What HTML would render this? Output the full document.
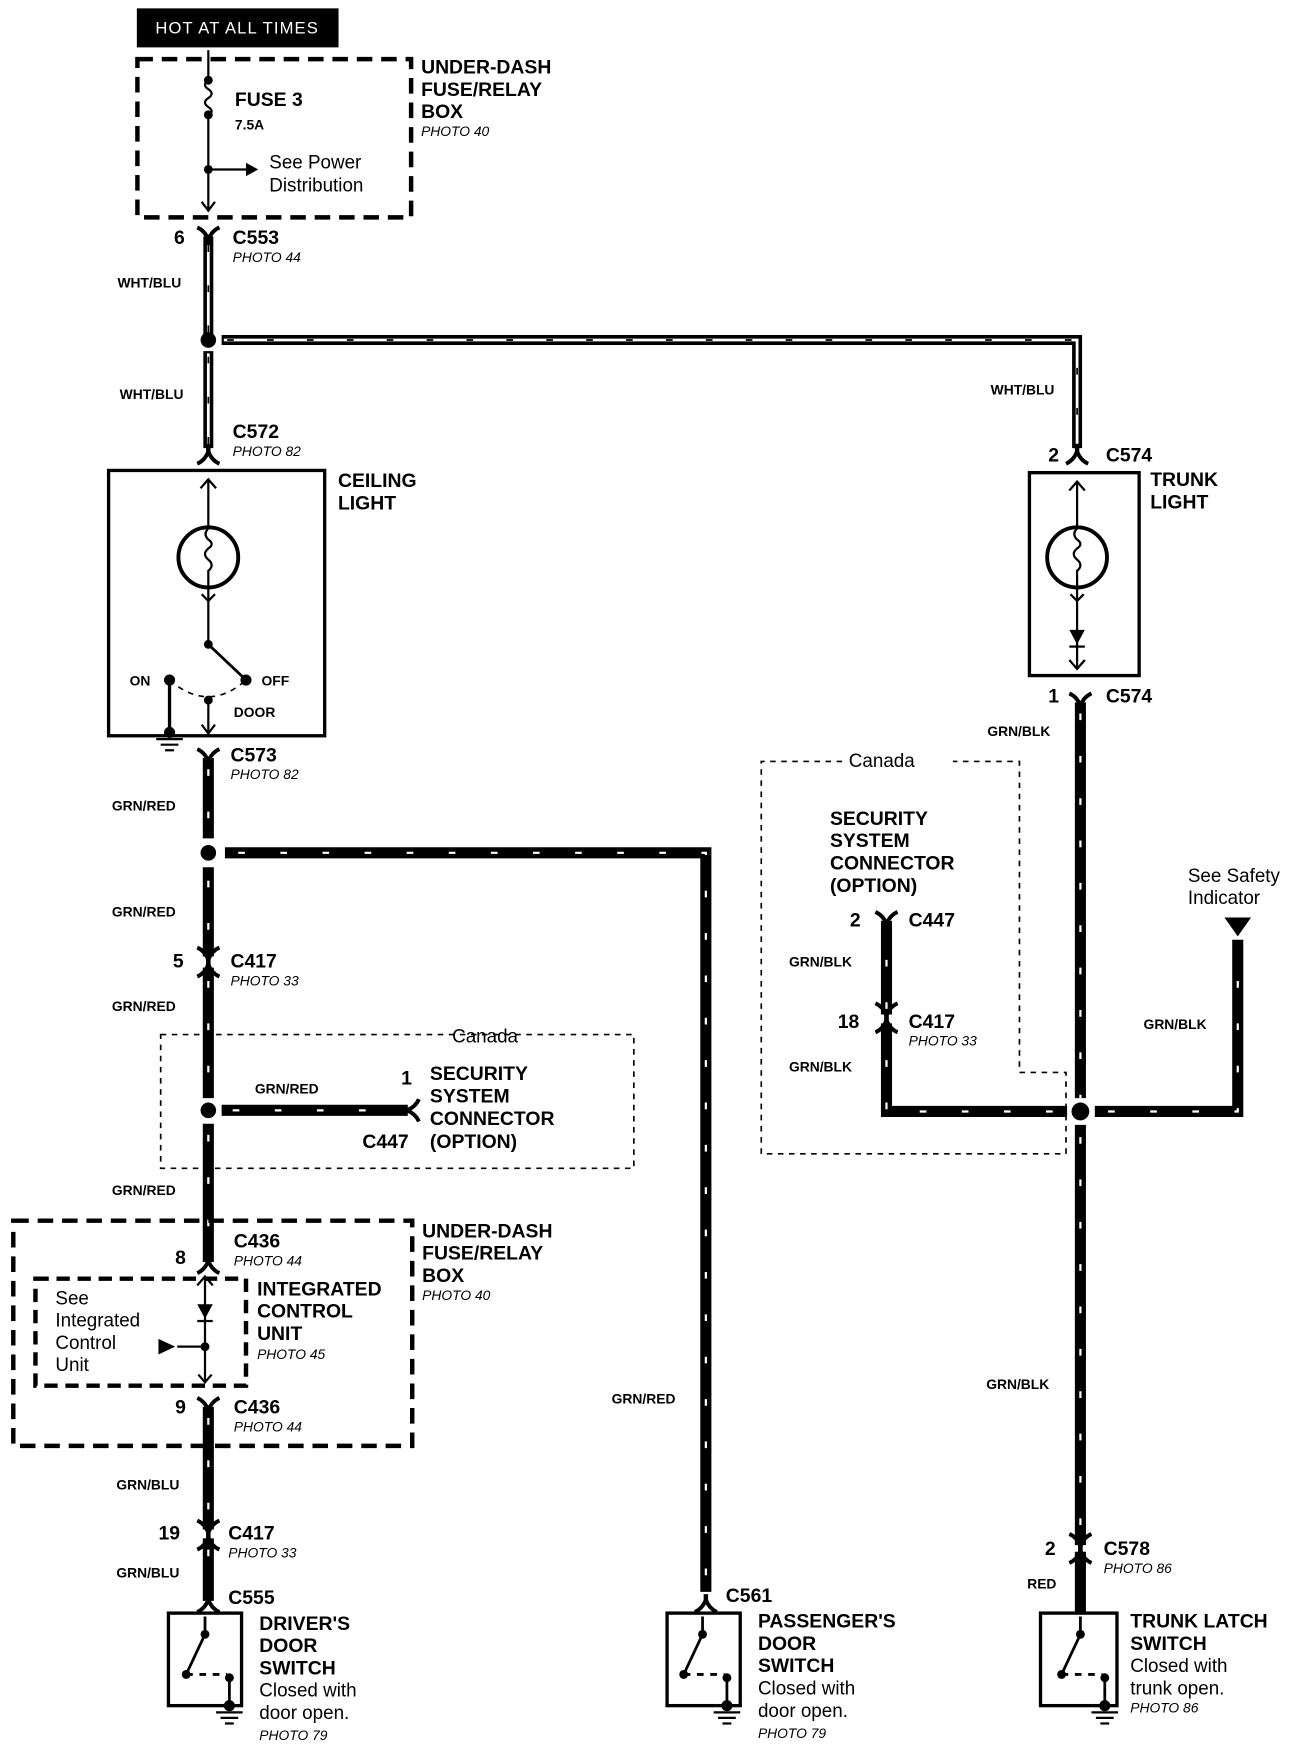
<!DOCTYPE html>
<html><head><meta charset="utf-8"><style>
html,body{margin:0;padding:0;background:#fff}
svg{display:block}
text{font-family:"Liberation Sans",Arial,sans-serif;fill:#000}
.b{font-weight:bold;font-size:17.5px}
.w{font-weight:bold;font-size:12.5px}
.p{font-style:italic;font-size:12.5px}
.n{font-size:17px}
</style></head><body>
<svg width="1312" height="1748" viewBox="0 0 1184 1568" preserveAspectRatio="none" xmlns="http://www.w3.org/2000/svg">
<defs>
<g id="fork"><path d="M-10,-8 Q-3,-5 0,3 Q3,-5 10,-8" fill="none" stroke="#000" stroke-width="3.5"/><line x1="0" y1="0" x2="0" y2="8" stroke="#000" stroke-width="4"/></g>
<g id="ground"><line x1="-12" y1="0" x2="12" y2="0" stroke="#000" stroke-width="2"/><line x1="-8" y1="5" x2="8" y2="5" stroke="#000" stroke-width="2"/><line x1="-4" y1="10" x2="4" y2="10" stroke="#000" stroke-width="2"/></g>
</defs>
<g fill="none" stroke="#000">
<rect x="124" y="8" width="181" height="34" fill="#000"/>
<rect x="124" y="53" width="247" height="142" stroke-width="4" stroke-dasharray="14,8"/>
<line x1="188" y1="45" x2="188" y2="72" stroke-width="2"/>
<path d="M188,72 q-6,4 0,8 q6,4 0,8 q-6,4 0,8 q6,4 0,7" stroke-width="2"/>
<line x1="188" y1="103" x2="188" y2="188" stroke-width="2"/>
<line x1="188" y1="152" x2="222" y2="152" stroke-width="2"/>
<path d="M182,181 L188,189 L194,181" stroke-width="2"/>
<g stroke-width="9"><path d="M188,212 V300"/><path d="M188,315 V402"/><path d="M200,305 H972 V402"/></g>
<g stroke="#fff" stroke-width="2.5"><path d="M188,216 V298"/><path d="M188,317 V398"/><path d="M202,305 H972 V398"/></g>
<g stroke-width="1.5" stroke-dasharray="6,30"><path d="M188,220 V298"/><path d="M188,320 V398"/><path d="M205,305 H972 V398"/></g>
<rect x="98" y="422" width="195" height="238" stroke-width="3"/>
<line x1="188" y1="430" x2="188" y2="578" stroke-width="2"/>
<path d="M181,438 L188,430 L195,438" stroke-width="2"/>
<circle cx="188" cy="500" r="27" stroke-width="3.5" fill="#fff"/>
<path d="M188,474 q-5,5 0,10 q6,4 0,8 q-6,5 0,10 q6,5 0,10 v14" stroke-width="2"/>
<path d="M182,533 L188,539 L194,533" stroke-width="2"/>
<line x1="188" y1="578" x2="222" y2="610" stroke-width="2.5"/>
<path d="M153,610 Q188,640 222,610" stroke-width="1.5" stroke-dasharray="5,5"/>
<line x1="153" y1="610" x2="153" y2="657" stroke-width="3"/>
<line x1="188" y1="628" x2="188" y2="658" stroke-width="2"/>
<path d="M182,650 L188,658 L194,650" stroke-width="2"/>
<rect x="929" y="424" width="99" height="182" stroke-width="3"/>
<line x1="972" y1="432" x2="972" y2="600" stroke-width="2"/>
<path d="M965,440 L972,432 L979,440" stroke-width="2"/>
<circle cx="972" cy="500" r="27" stroke-width="3.5" fill="#fff"/>
<path d="M972,474 q-5,5 0,10 q6,4 0,8 q-6,5 0,10 q6,5 0,10 v14" stroke-width="2"/>
<path d="M966,533 L972,539 L978,533" stroke-width="2"/>
<path d="M965,592 L972,600 L979,592" stroke-width="2"/>
<g stroke-width="10">
<path d="M188,680 V752"/><path d="M203,765 H637 V1428"/>
<path d="M188,778 V858"/><path d="M188,868 V985"/><path d="M200,996 H368"/>
<path d="M188,1008 V1132"/><path d="M188,1262 V1372"/><path d="M188,1380 V1436"/>
<path d="M975,630 V985"/><path d="M975,1009 V1386"/>
<path d="M963,997 H800 V918"/><path d="M800,910 V826"/><path d="M988,997 H1117 V843"/>
<path d="M975,1392 V1447"/>
</g>
<g stroke="#fff" stroke-width="2" stroke-dasharray="6,32">
<path d="M188,690 V752"/><path d="M215,765 H637 V1420"/>
<path d="M188,790 V855"/><path d="M188,880 V985"/><path d="M210,996 H360"/>
<path d="M188,1018 V1125"/><path d="M188,1272 V1368"/><path d="M188,1390 V1425"/>
<path d="M975,640 V985"/><path d="M975,1020 V1380"/>
<path d="M950,997 H800 V922"/><path d="M800,905 V835"/><path d="M1000,997 H1117 V850"/>
</g>
<use href="#fork" x="188" y="212"/>
<use href="#fork" x="188" y="408" transform="rotate(180 188 408)"/>
<use href="#fork" x="188" y="680"/>
<use href="#fork" x="188" y="858"/><use href="#fork" x="188" y="868" transform="rotate(180 188 868)"/>
<use href="#fork" x="188" y="1134" transform="rotate(180 188 1134)"/>
<use href="#fork" x="188" y="1262"/>
<use href="#fork" x="188" y="1372"/><use href="#fork" x="188" y="1382" transform="rotate(180 188 1382)"/>
<use href="#fork" x="188" y="1438" transform="rotate(180 188 1438)"/>
<use href="#fork" x="637" y="1438" transform="rotate(180 637 1438)"/>
<use href="#fork" x="972" y="408" transform="rotate(180 972 408)"/>
<use href="#fork" x="975" y="630"/>
<use href="#fork" x="800" y="826"/>
<use href="#fork" x="800" y="908"/><use href="#fork" x="800" y="918" transform="rotate(180 800 918)"/>
<use href="#fork" x="975" y="1384"/><use href="#fork" x="975" y="1394" transform="rotate(180 975 1394)"/>
<use href="#fork" x="370" y="996" transform="rotate(90 370 996)"/>
<rect x="145" y="928" width="427" height="120" stroke-width="1.5" stroke-dasharray="5,5"/>
<path d="M760,683 H687 V1035 H962 V962 H920 V683 H860" stroke-width="1.5" stroke-dasharray="5,5"/>
<rect x="12" y="1095" width="360" height="202" stroke-width="4" stroke-dasharray="14,8"/>
<rect x="32" y="1147" width="190" height="96" stroke-width="4" stroke-dasharray="12,7"/>
<line x1="185" y1="1145" x2="185" y2="1240" stroke-width="2"/>
<path d="M178,1153 L185,1145 L192,1153" stroke-width="2"/>
<path d="M179,1233 L185,1240 L191,1233" stroke-width="2"/>
<line x1="160" y1="1208" x2="185" y2="1208" stroke-width="2"/>
<g stroke-width="3"><rect x="152" y="1447" width="66" height="83"/><rect x="602" y="1447" width="66" height="83"/><rect x="939" y="1447" width="69" height="83"/></g>
<g stroke-width="2.5">
<path d="M185,1450 V1466 L168,1502"/><path d="M168,1502 H205" stroke-dasharray="6,6"/><path d="M207,1505 V1530"/>
<path d="M634,1450 V1466 L617,1502"/><path d="M617,1502 H654" stroke-dasharray="6,6"/><path d="M656,1505 V1530"/>
<path d="M975,1450 V1466 L958,1502"/><path d="M958,1502 H995" stroke-dasharray="6,6"/><path d="M997,1505 V1530"/>
</g>
</g>
<g fill="#000">
<circle cx="188" cy="72" r="4"/><circle cx="188" cy="103" r="4"/><circle cx="188" cy="152" r="4"/>
<path d="M222,146 L233,152 L222,158Z"/>
<circle cx="188" cy="305" r="7"/><circle cx="188" cy="765" r="7"/><circle cx="188" cy="996" r="7"/><circle cx="975" cy="997" r="8"/>
<circle cx="188" cy="578" r="4"/><circle cx="222" cy="610" r="5"/><circle cx="153" cy="610" r="5"/><circle cx="188" cy="628" r="4"/>
<circle cx="153" cy="657" r="5"/>
<path d="M965,565 H979 L972,578Z"/><line x1="965" y1="580" x2="979" y2="580" stroke="#000" stroke-width="2"/>
<path d="M178,1170 H192 L185,1183Z"/><line x1="178" y1="1185" x2="192" y2="1185" stroke="#000" stroke-width="2"/>
<circle cx="185" cy="1208" r="4"/><path d="M143,1201 L158,1208 L143,1215Z"/>
<path d="M1105,823 H1129 L1117,840Z"/>
<circle cx="185" cy="1466" r="4"/><circle cx="168" cy="1502" r="4"/><circle cx="207" cy="1505" r="4"/><circle cx="207" cy="1530" r="5"/>
<circle cx="634" cy="1466" r="4"/><circle cx="617" cy="1502" r="4"/><circle cx="656" cy="1505" r="4"/><circle cx="656" cy="1530" r="5"/>
<circle cx="975" cy="1466" r="4"/><circle cx="958" cy="1502" r="4"/><circle cx="997" cy="1505" r="4"/><circle cx="997" cy="1530" r="5"/>
</g>
<use href="#ground" x="153" y="663"/>
<use href="#ground" x="207" y="1536"/><use href="#ground" x="656" y="1536"/><use href="#ground" x="997" y="1536"/>

<text x="214" y="30" text-anchor="middle" style="fill:#fff;font-size:15px;letter-spacing:1px">HOT AT ALL TIMES</text>
<text class="b" x="212" y="95">FUSE 3</text><text class="w" x="212" y="116">7.5A</text>
<text class="n" x="243" y="151">See Power</text><text class="n" x="243" y="172">Distribution</text>
<text class="b" x="380" y="66">UNDER-DASH</text><text class="b" x="380" y="86">FUSE/RELAY</text><text class="b" x="380" y="106">BOX</text><text class="p" x="380" y="122">PHOTO 40</text>
<text class="b" x="157" y="219">6</text><text class="b" x="210" y="219">C553</text><text class="p" x="210" y="235">PHOTO 44</text>
<text class="w" x="106" y="258">WHT/BLU</text><text class="w" x="108" y="358">WHT/BLU</text><text class="w" x="894" y="354">WHT/BLU</text>
<text class="b" x="210" y="393">C572</text><text class="p" x="210" y="409">PHOTO 82</text>
<text class="b" x="305" y="437">CEILING</text><text class="b" x="305" y="457">LIGHT</text>
<text class="w" x="117" y="615">ON</text><text class="w" x="236" y="615">OFF</text><text class="w" x="211" y="643">DOOR</text>
<text class="b" x="208" y="683">C573</text><text class="p" x="208" y="699">PHOTO 82</text><text class="w" x="101" y="727">GRN/RED</text>
<text class="w" x="101" y="822">GRN/RED</text><text class="b" x="156" y="868">5</text><text class="b" x="208" y="868">C417</text><text class="p" x="208" y="884">PHOTO 33</text><text class="w" x="101" y="907">GRN/RED</text>
<text class="n" x="408" y="935">Canada</text>
<text class="w" x="230" y="981">GRN/RED</text><text class="b" x="362" y="973">1</text>
<text class="b" x="388" y="969">SECURITY</text><text class="b" x="388" y="989">SYSTEM</text><text class="b" x="388" y="1009">CONNECTOR</text><text class="b" x="388" y="1030">(OPTION)</text><text class="b" x="327" y="1030">C447</text>
<text class="w" x="101" y="1072">GRN/RED</text>
<text class="b" x="158" y="1134">8</text><text class="b" x="211" y="1119">C436</text><text class="p" x="211" y="1135">PHOTO 44</text>
<text class="b" x="381" y="1110">UNDER-DASH</text><text class="b" x="381" y="1130">FUSE/RELAY</text><text class="b" x="381" y="1150">BOX</text><text class="p" x="381" y="1166">PHOTO 40</text>
<text class="n" x="50" y="1170">See</text><text class="n" x="50" y="1190">Integrated</text><text class="n" x="50" y="1210">Control</text><text class="n" x="50" y="1230">Unit</text>
<text class="b" x="232" y="1162">INTEGRATED</text><text class="b" x="232" y="1182">CONTROL</text><text class="b" x="232" y="1202">UNIT</text><text class="p" x="232" y="1219">PHOTO 45</text>
<text class="b" x="158" y="1268">9</text><text class="b" x="211" y="1268">C436</text><text class="p" x="211" y="1284">PHOTO 44</text>
<text class="w" x="105" y="1336">GRN/BLU</text><text class="b" x="143" y="1381">19</text><text class="b" x="206" y="1381">C417</text><text class="p" x="206" y="1397">PHOTO 33</text>
<text class="w" x="105" y="1415">GRN/BLU</text><text class="b" x="206" y="1439">C555</text>
<text class="b" x="234" y="1462">DRIVER'S</text><text class="b" x="234" y="1482">DOOR</text><text class="b" x="234" y="1502">SWITCH</text><text class="n" x="234" y="1522">Closed with</text><text class="n" x="234" y="1542">door open.</text><text class="p" x="234" y="1561">PHOTO 79</text>
<text class="w" x="552" y="1259">GRN/RED</text>
<text class="b" x="655" y="1437">C561</text>
<text class="b" x="684" y="1460">PASSENGER'S</text><text class="b" x="684" y="1480">DOOR</text><text class="b" x="684" y="1500">SWITCH</text><text class="n" x="684" y="1520">Closed with</text><text class="n" x="684" y="1540">door open.</text><text class="p" x="684" y="1559">PHOTO 79</text>
<text class="b" x="946" y="414">2</text><text class="b" x="998" y="414">C574</text><text class="b" x="1038" y="436">TRUNK</text><text class="b" x="1038" y="456">LIGHT</text>
<text class="b" x="946" y="630">1</text><text class="b" x="998" y="630">C574</text><text class="w" x="891" y="660">GRN/BLK</text>
<text class="n" x="766" y="688">Canada</text>
<text class="b" x="749" y="740">SECURITY</text><text class="b" x="749" y="760">SYSTEM</text><text class="b" x="749" y="780">CONNECTOR</text><text class="b" x="749" y="800">(OPTION)</text>
<text class="b" x="767" y="831">2</text><text class="b" x="820" y="831">C447</text><text class="w" x="712" y="867">GRN/BLK</text>
<text class="b" x="756" y="922">18</text><text class="b" x="820" y="922">C417</text><text class="p" x="820" y="938">PHOTO 33</text><text class="w" x="712" y="961">GRN/BLK</text>
<text class="n" x="1072" y="791">See Safety</text><text class="n" x="1072" y="811">Indicator</text><text class="w" x="1032" y="923">GRN/BLK</text>
<text class="w" x="890" y="1246">GRN/BLK</text>
<text class="b" x="943" y="1395">2</text><text class="b" x="996" y="1395">C578</text><text class="p" x="996" y="1411">PHOTO 86</text><text class="w" x="927" y="1425">RED</text>
<text class="b" x="1020" y="1460">TRUNK LATCH</text><text class="b" x="1020" y="1480">SWITCH</text><text class="n" x="1020" y="1500">Closed with</text><text class="n" x="1020" y="1520">trunk open.</text><text class="p" x="1020" y="1536">PHOTO 86</text>
</svg>
</body></html>
